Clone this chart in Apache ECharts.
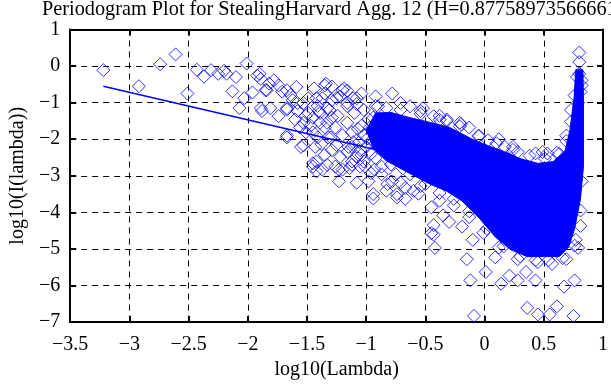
<!DOCTYPE html>
<html><head><meta charset="utf-8">
<script src="https://cdn.jsdelivr.net/npm/echarts@6/dist/echarts.min.js"></script>
<style>html,body{margin:0;padding:0;background:#fff}#c{width:611px;height:385px}</style>
</head><body><div id="c"></div>
<script>
const titleText = 'Periodogram Plot for StealingHarvard Agg. 12 (H=0.87758973566661';
const xName = 'log10(Lambda)';
const yName = 'log10(I(lambda))';
const xTicks = {min: -3.5, max: 1, step: 0.5};
const yTicks = {min: -7, max: 1, step: 1};

// Fitted regression line (slope = 1 - 2H)
const fitX = [-3.22, -0.75];
const fitY = [-0.55, -2.41];

// Saturated (solid) part of the point cloud, outline
const coreX = [-1.00,-0.92,-0.79,-0.63,-0.46,-0.30,-0.11,0.03,0.17,0.30,0.45,0.58,0.68,0.72,0.755,0.77,0.83,
               0.835,0.835,0.81,0.76,0.71,
               0.63,0.36,0.22,0.09,-0.05,-0.19,-0.32,-0.46,-0.63,-0.83,-0.94];
const coreY = [-1.75,-1.28,-1.27,-1.41,-1.54,-1.67,-1.99,-2.18,-2.34,-2.53,-2.66,-2.61,-2.31,-1.76,-0.88,-0.10,-0.10,
               -0.88,-2.75,-3.63,-4.45,-4.95,
               -5.21,-5.21,-5.02,-4.67,-4.14,-3.69,-3.42,-3.23,-2.94,-2.59,-2.25];

// Individual periodogram points (log10 lambda, log10 I)
const leftPts = [[-3.22,-0.11],[-2.92,-0.55],[-2.74,0.05],[-2.61,0.32],[-2.51,-0.75],[-2.43,-0.10],[-2.37,-0.29],
 [-2.31,-0.11],[-2.25,-0.21],[-2.20,-0.13],[-2.18,-0.21],[-2.10,-0.30],[-2.13,-0.69],[-2.01,0.07],[-1.92,-0.26],
 [-1.89,-0.35],[-1.96,-0.72],[-2.03,-0.88],[-2.07,-1.15],[-1.89,-1.15],[-1.82,-0.48],[-1.78,-0.39],[-1.84,-0.66],
 [-1.74,-0.53],[-1.71,-0.70],[-1.67,-0.66],[-1.64,-0.79],[-1.59,-0.57],[-1.62,-0.93],[-1.81,-1.15],[-1.74,-1.37],
 [-1.67,-1.15],[-1.58,-1.23],[-1.60,-1.46],[-1.56,-1.68],[-1.51,-1.81],[-1.67,-1.95],[-1.53,-2.17],[-1.90,-0.21],
 [-1.85,-0.66],[-1.88,-1.23],[-1.67,-1.19],[-1.67,-1.90],[-1.55,-2.21]];
const midPts = [[-1.44,-0.61],[-1.42,-0.88],[-1.45,-1.41],[-1.40,-1.23],[-1.42,-2.61],[-1.35,-0.53],[-1.20,-0.66],
 [-0.78,-0.75],[-1.38,-2.13],[-1.29,-2.30],[-1.15,-2.21],[-1.45,-2.66],[-1.26,-2.75],[-1.14,-2.79],[-1.01,-2.75],
 [-0.93,-2.83],[-0.43,-1.37],[-0.52,-1.15],[-0.63,-1.10],[-1.34,-0.48],[-1.19,-0.61],[-0.32,-1.50],[-1.45,-2.75],
 [-1.42,-2.88],[-1.33,-2.70],[-1.23,-3.15],[-1.08,-3.19],[-1.20,-2.83],[-1.12,-2.70],[-1.05,-2.75],[-0.96,-2.93],
 [-0.94,-3.50],[-0.82,-3.23],[-0.71,-3.19],[-0.74,-3.50],[-0.60,-3.41],[-1.37,-2.83],[-1.23,-2.83],[-0.98,-3.15],
 [-0.94,-3.62],[-0.74,-3.59],[-0.67,-3.63],[-0.45,-3.86],[-0.43,-4.35],[-0.45,-4.57],[-0.42,-4.97],[-0.35,-4.08],
 [-0.43,-4.61],[-1.53,-1.01],[-1.49,-1.28],[-1.37,-0.88],[-1.33,-1.15],[-1.29,-1.41],[-1.35,-1.68],[-1.41,-1.95],
 [-1.47,-1.63],[-1.30,-1.95],[-1.25,-0.88],[-1.53,-1.55]];
const meshPts = [[-1.35,-0.75],[-1.29,-0.93],[-1.22,-0.83],[-1.16,-1.09],[-1.11,-0.88],[-1.31,-1.20],[-1.24,-1.36],
 [-1.16,-1.55],[-1.10,-1.28],[-1.04,-1.63],[-1.26,-1.68],[-1.20,-1.89],[-1.12,-1.81],[-1.06,-2.08],[-1.32,-1.95],
 [-1.25,-2.16],[-1.16,-2.35],[-1.08,-2.48],[-1.00,-2.21],[-1.02,-1.89],[-0.94,-2.08],[-1.39,-1.55],[-1.45,-1.81],
 [-1.49,-0.88],[-1.58,-1.01],[-0.87,-2.96],[-0.78,-3.15],[-0.67,-3.33],[-0.56,-3.49],[-0.83,-3.41],
 [-1.51,-1.36],[-1.41,-1.09],[-1.33,-1.55],[-1.43,-2.21],[-1.35,-2.43],[-1.22,-2.48],[-1.12,-2.61],[-1.02,-2.61],
 [-0.97,-1.68],[-0.94,-1.41],[-1.16,-0.67],[-1.04,-0.75],[-1.29,-0.56],[-1.11,-2.08],[-1.39,-1.28],
 [-1.02,-1.20],[-0.98,-1.45],[-1.07,-1.72],[-0.99,-1.98],[-1.05,-2.30],[-0.96,-2.40],[-0.90,-1.10]];
const rightPts = [[-0.15,-5.28],[-0.12,-5.86],[0.01,-5.63],[0.09,-5.23],[0.14,-5.95],[0.21,-5.73],[0.28,-5.86],
 [0.35,-5.63],[0.43,-5.86],[0.36,-6.61],[0.45,-6.79],[0.55,-6.79],[0.61,-6.57],[0.75,-6.83],[-0.09,-6.83],
 [0.67,-6.03],[0.76,-5.86],[0.79,-4.97],[-0.10,-4.75],[-0.19,-4.39],[-0.30,-4.26],
 [-0.32,-1.46],[-0.20,-1.59],[-0.05,-1.90],[0.03,-2.03],[0.17,-2.21],[0.28,-2.35],[0.43,-2.39],[0.53,-2.39],
 [0.80,0.37],[0.80,0.11],[0.80,-0.21],[0.82,-0.39],[0.82,-0.53],[-0.21,-1.55],[0.78,-0.30],[0.81,-0.70],[0.79,-1.00]];
const edgePts = [[-1.08,-0.88],[-0.92,-0.83],[-0.71,-1.01],[-0.54,-1.23],[-0.38,-1.36],[-0.13,-1.68],[0.12,-2.00],
 [0.24,-2.21],[0.49,-2.35],[0.61,-2.37],[0.69,-1.90],[0.73,-1.20],[0.76,-0.80],
 [-0.38,-3.68],[-0.26,-3.81],[-0.13,-4.13],[-0.01,-4.56],[0.12,-4.96],[0.28,-5.28],[0.45,-5.36],[0.57,-5.41],
 [0.69,-5.28],[0.77,-4.75],[0.81,-3.95],[0.82,-3.15],
 [-1.12,-2.21],[-1.04,-2.43],[-0.87,-2.75],[-0.75,-2.96],[-0.54,-3.28]];
const upperFringe = [[-1.16,-1.01],[-1.08,-1.04],[-0.92,-1.09],[-0.83,-1.15],[-0.71,-1.20],[-0.54,-1.31],
 [-0.38,-1.47],[-0.21,-1.65],[-0.05,-1.92],[0.10,-2.11],[0.24,-2.29],[0.38,-2.45],[0.51,-2.53],[0.63,-2.40],
 [0.69,-2.05],[0.73,-1.52]];
const lowerFringe = [[-0.92,-2.51],[-0.79,-2.69],[-0.63,-2.96],[-0.50,-3.23],[-0.38,-3.47],[-0.26,-3.63],
 [-0.13,-3.97],[0.02,-4.45],[0.16,-4.93],[0.30,-5.20],[0.43,-5.31],[0.54,-5.31],[0.66,-5.25],[0.76,-4.91],[0.81,-4.37]];

const BLUE = '#0000ff';
const FONT = 'Liberation Serif';
const fmt = v => (v < 0 ? '\u2212' : '') + String(Math.abs(Math.round(v * 100) / 100));
const frame = {show: true, onZero: false, lineStyle: {color: '#000', width: 2}};
const tick = {show: true, inside: true, length: 6, lineStyle: {color: '#000', width: 2}};
const grid = {show: true, lineStyle: {color: '#000', width: 1, type: [6, 5]}};
const txt = {color: '#000', fontFamily: FONT, fontSize: 20};

const chart = echarts.init(document.getElementById('c'), null, {renderer: 'canvas'});
const allPts = leftPts.concat(midPts, meshPts, rightPts, edgePts, upperFringe, lowerFringe);
chart.setOption({
  animation: false,
  backgroundColor: '#fff',
  title: {text: titleText, left: 42, top: 0, padding: 0,
          textStyle: {color: '#000', fontFamily: FONT, fontSize: 20.3, fontWeight: 'normal'}},
  grid: {left: 61.5, right: 3.5, top: 29.5, bottom: 55.5, containLabel: false},
  xAxis: [
    {type: 'value', position: 'bottom', min: xTicks.min, max: xTicks.max, interval: xTicks.step,
     axisLine: frame, axisTick: tick, splitLine: grid,
     axisLabel: Object.assign({formatter: fmt, margin: 13}, txt),
     name: xName, nameLocation: 'middle', nameGap: 34, nameTextStyle: txt},
    {type: 'value', position: 'top', min: xTicks.min, max: xTicks.max, interval: xTicks.step,
     axisLine: frame, axisTick: tick, splitLine: {show: false}, axisLabel: {show: false}}
  ],
  yAxis: [
    {type: 'value', position: 'left', min: yTicks.min, max: yTicks.max, interval: yTicks.step,
     axisLine: frame, axisTick: tick, splitLine: grid,
     axisLabel: Object.assign({formatter: fmt, margin: 10}, txt),
     name: yName, nameLocation: 'middle', nameGap: 40, nameTextStyle: txt},
    {type: 'value', position: 'right', min: yTicks.min, max: yTicks.max, interval: yTicks.step,
     axisLine: frame, axisTick: tick, splitLine: {show: false}, axisLabel: {show: false}}
  ],
  series: [
    {type: 'custom', xAxisIndex: 0, yAxisIndex: 0, silent: true, z: 2,
     data: [[coreX[0], coreY[0]]],
     renderItem: (params, api) => ({
       type: 'polygon',
       shape: {points: coreX.map((x, i) => api.coord([x, coreY[i]]))},
       style: {fill: BLUE, stroke: BLUE, lineWidth: 1}
     })},
    {type: 'scatter', xAxisIndex: 0, yAxisIndex: 0, symbol: 'diamond', symbolSize: 13, z: 3,
     data: allPts,
     itemStyle: {color: 'rgba(0,0,0,0)', borderColor: BLUE, borderWidth: 1}},
    {type: 'line', xAxisIndex: 0, yAxisIndex: 0, showSymbol: false, z: 4,
     data: fitX.map((x, i) => [x, fitY[i]]),
     lineStyle: {color: BLUE, width: 1.5}}
  ]
});
</script></body></html>
